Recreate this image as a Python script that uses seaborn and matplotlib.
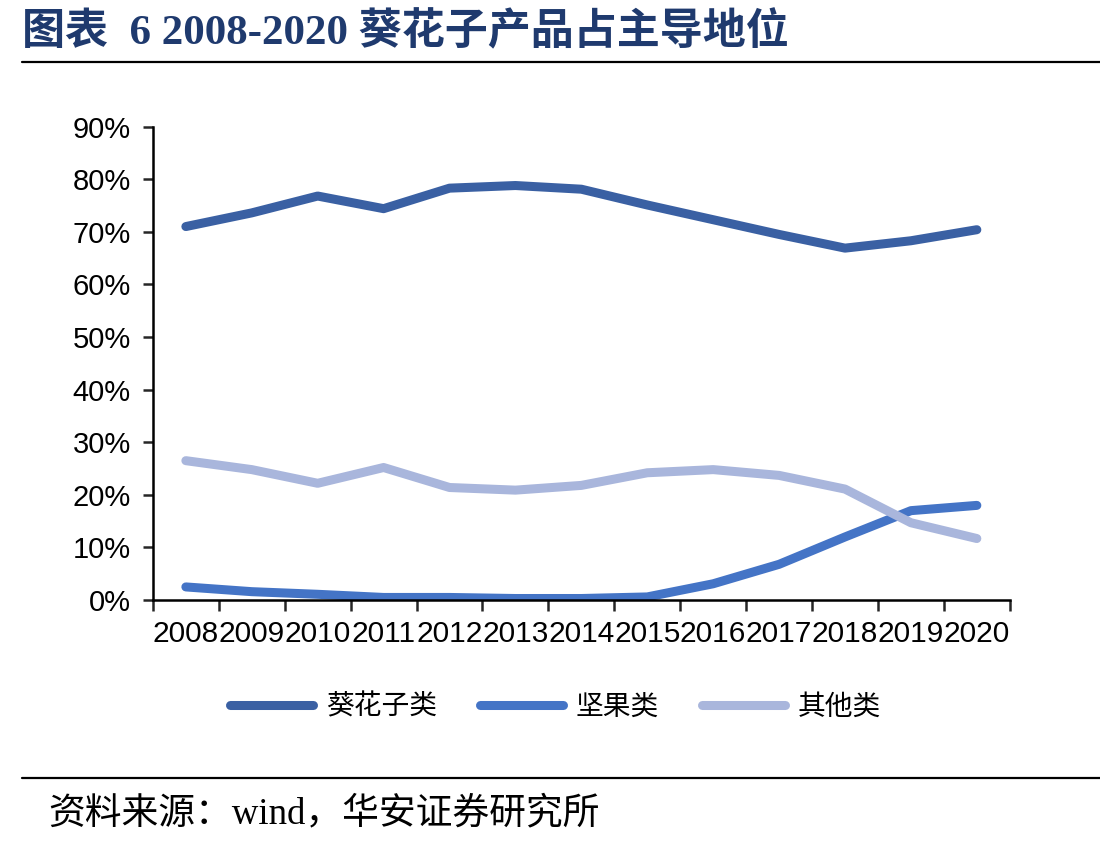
import numpy as np
import pandas as pd
import matplotlib.pyplot as plt
import seaborn as sns
from matplotlib.lines import Line2D
from matplotlib.ticker import FixedLocator, FuncFormatter

# data
years = ['2008', '2009', '2010', '2011', '2012', '2013', '2014',
         '2015', '2016', '2017', '2018', '2019', '2020']
sunflower = [71.0, 73.6, 76.8, 74.4, 78.3, 78.8, 78.1, 75.1, 72.3, 69.5, 66.9, 68.3, 70.4]
nuts = [2.5, 1.6, 1.1, 0.5, 0.5, 0.3, 0.3, 0.6, 3.1, 6.8, 12.0, 17.0, 18.0]
others = [26.5, 24.8, 22.2, 25.2, 21.4, 20.9, 21.8, 24.2, 24.8, 23.7, 21.1, 14.7, 11.7]
series_names = ['葵花子类', '坚果类', '其他类']
colors = ['#3A60A3', '#4474C6', '#A9B6DC']

df = pd.DataFrame({'year': years * 3,
                   'pos': list(range(len(years))) * 3,
                   'value': sunflower + nuts + others,
                   'series': [s for s in series_names for _ in years]})

sns.set_style('white')
plt.rcParams['font.family'] = ['Liberation Sans', 'Noto Sans CJK SC']

fig = plt.figure(figsize=(11, 8.44), dpi=100)
ax = fig.add_axes([0.139, 0.289, 0.779, 0.561])

sns.lineplot(data=df, x='pos', y='value', hue='series', palette=colors,
             hue_order=series_names, linewidth=6.5, ax=ax, legend=False,
             solid_capstyle='round', solid_joinstyle='round')

ax.set_xlim(-0.5, len(years) - 0.5)
ax.set_ylim(0, 90)
ax.set_yticks(np.arange(0, 91, 10))
ax.yaxis.set_major_formatter(FuncFormatter(lambda v, p: f'{int(v)}%'))
ax.set_xticks(range(len(years)))
ax.set_xticklabels(years)
ax.xaxis.set_minor_locator(FixedLocator(np.arange(-0.5, len(years), 1)))
ax.tick_params(axis='x', which='major', length=0, labelsize=21.5, pad=14,
               labelcolor='black')
ax.tick_params(axis='x', which='minor', length=8, width=1.8, direction='out', bottom=True)
ax.tick_params(axis='y', length=7, width=1.8, direction='out', left=True, labelsize=21,
               pad=9, labelcolor='black')
ax.set_xlabel('')
ax.set_ylabel('')
sns.despine(ax=ax)
for s in ['left', 'bottom']:
    ax.spines[s].set_linewidth(1.8)
    ax.spines[s].set_color('black')

handles = [Line2D([0], [0], color=c, lw=6.5, solid_capstyle='round') for c in colors]
fig.legend(handles, series_names, loc='center', bbox_to_anchor=(0.505, 0.163), ncol=3,
           frameon=False, handlelength=3.0, columnspacing=1.55, handletextpad=0.45,
           prop={'family': ['Noto Sans CJK SC'], 'size': 20}, labelcolor='black')

# title, rules and footer
fig.text(0.02, 0.962, '图表  6 2008-2020 葵花子产品占主导地位', fontsize=31, fontweight='bold',
         color='#1F3A6E', va='center', ha='left', family=['Liberation Serif', 'Noto Sans CJK SC'])
fig.add_artist(Line2D([0.02, 1.0], [0.926, 0.926], color='black', lw=1.6))
fig.add_artist(Line2D([0.02, 1.0], [0.078, 0.078], color='black', lw=1.6))
fig.text(0.044, 0.035, '资料来源：wind，华安证券研究所', fontsize=26.5, color='black',
         va='center', ha='left', family=['Liberation Serif', 'Noto Sans CJK SC'])

fig.savefig('out.png', dpi=100)
